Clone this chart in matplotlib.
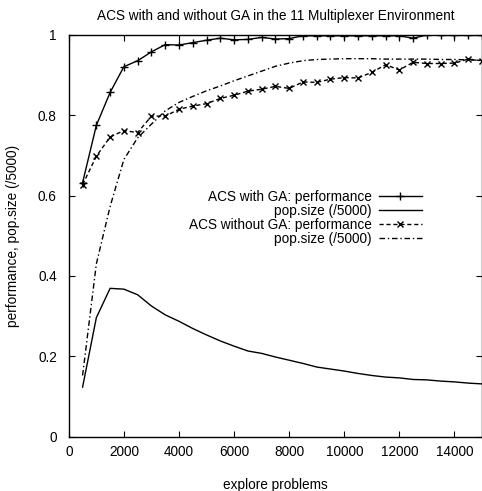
import matplotlib
matplotlib.use("Agg")
import matplotlib.pyplot as plt

plt.rcParams['font.family'] = ['Liberation Sans', 'DejaVu Sans']
FS = 9.8

explore = [500, 1000, 1500, 2000, 2500, 3000, 3500, 4000, 4500, 5000,
           5500, 6000, 6500, 7000, 7500, 8000, 8500, 9000, 9500, 10000,
           10500, 11000, 11500, 12000, 12500, 13000, 13500, 14000, 14500, 15000]

ga_perf = [0.632, 0.775, 0.857, 0.921, 0.936, 0.958, 0.976, 0.975, 0.981, 0.987,
           0.992, 0.988, 0.989, 0.994, 0.990, 0.991, 0.998, 0.998, 0.998, 0.998,
           0.998, 0.998, 0.998, 0.998, 0.992, 1.000, 0.999, 0.999, 0.999, 0.999]

ga_pop = [0.123, 0.296, 0.369, 0.367, 0.353, 0.325, 0.303, 0.287, 0.269, 0.253,
          0.238, 0.225, 0.213, 0.207, 0.198, 0.190, 0.182, 0.173, 0.168, 0.163,
          0.157, 0.152, 0.148, 0.146, 0.142, 0.141, 0.138, 0.136, 0.133, 0.131]

nga_perf = [0.627, 0.698, 0.746, 0.762, 0.757, 0.798, 0.798, 0.815, 0.823, 0.829,
            0.842, 0.850, 0.860, 0.865, 0.872, 0.867, 0.883, 0.882, 0.890, 0.894,
            0.893, 0.907, 0.926, 0.913, 0.932, 0.929, 0.929, 0.930, 0.940, 0.936]

nga_pop = [0.152, 0.430, 0.573, 0.690, 0.744, 0.778, 0.811, 0.832, 0.847, 0.861,
           0.873, 0.886, 0.898, 0.910, 0.922, 0.930, 0.936, 0.939, 0.940, 0.941,
           0.941, 0.941, 0.940, 0.940, 0.940, 0.940, 0.939, 0.939, 0.938, 0.937]

labels = ["ACS with GA: performance", "pop.size (/5000)",
          "ACS without GA: performance", "pop.size (/5000)"]

W, H = 482, 491
fig = plt.figure(figsize=(W / 100, H / 100), dpi=100)
left, right, top, bottom = 68.8, 482.0, 35.0, 436.5
ax = fig.add_axes([left / W, 1 - bottom / H, (right - left) / W, (bottom - top) / H])

ax.plot(explore, ga_perf, color='black', lw=1.0, marker='+', ms=6, mew=1.0, label=labels[0])
ax.plot(explore, ga_pop, color='black', lw=1.0, label=labels[1])
ax.plot(explore, nga_perf, color='black', lw=1.0, ls=(0, (3, 2)), marker='x', ms=5, mew=1.0,
        label=labels[2])
ax.plot(explore, nga_pop, color='black', lw=1.0, ls=(0, (4, 2, 1, 2)), label=labels[3])

ax.set_xlim(0, 15000)
ax.set_ylim(0, 1)
ax.set_xticks(range(0, 15000, 2000))
ax.set_yticks([0, 0.2, 0.4, 0.6, 0.8, 1.0])
ax.set_yticklabels(["0", "0.2", "0.4", "0.6", "0.8", "1"])
ax.tick_params(direction='in', length=4, width=0.8, top=True, right=True,
               labelsize=FS, colors='black')
ax.tick_params(axis='y', pad=8.6)
ax.tick_params(axis='x', pad=6)
for s in ax.spines.values():
    s.set_linewidth(1.0)

ax.set_title("ACS with and without GA in the 11 Multiplexer Environment", fontsize=FS, pad=11)
ax.set_xlabel("explore problems", fontsize=FS, labelpad=14)
ax.set_ylabel("performance, pop.size (/5000)", fontsize=FS, labelpad=13)

leg = ax.legend(loc='upper right', bbox_to_anchor=(0.855, 0.614), frameon=False,
                markerfirst=False, fontsize=FS, handlelength=3.2, handletextpad=0.5,
                labelspacing=0.0, borderpad=0, borderaxespad=0)

fig.savefig("out.png", dpi=100)
